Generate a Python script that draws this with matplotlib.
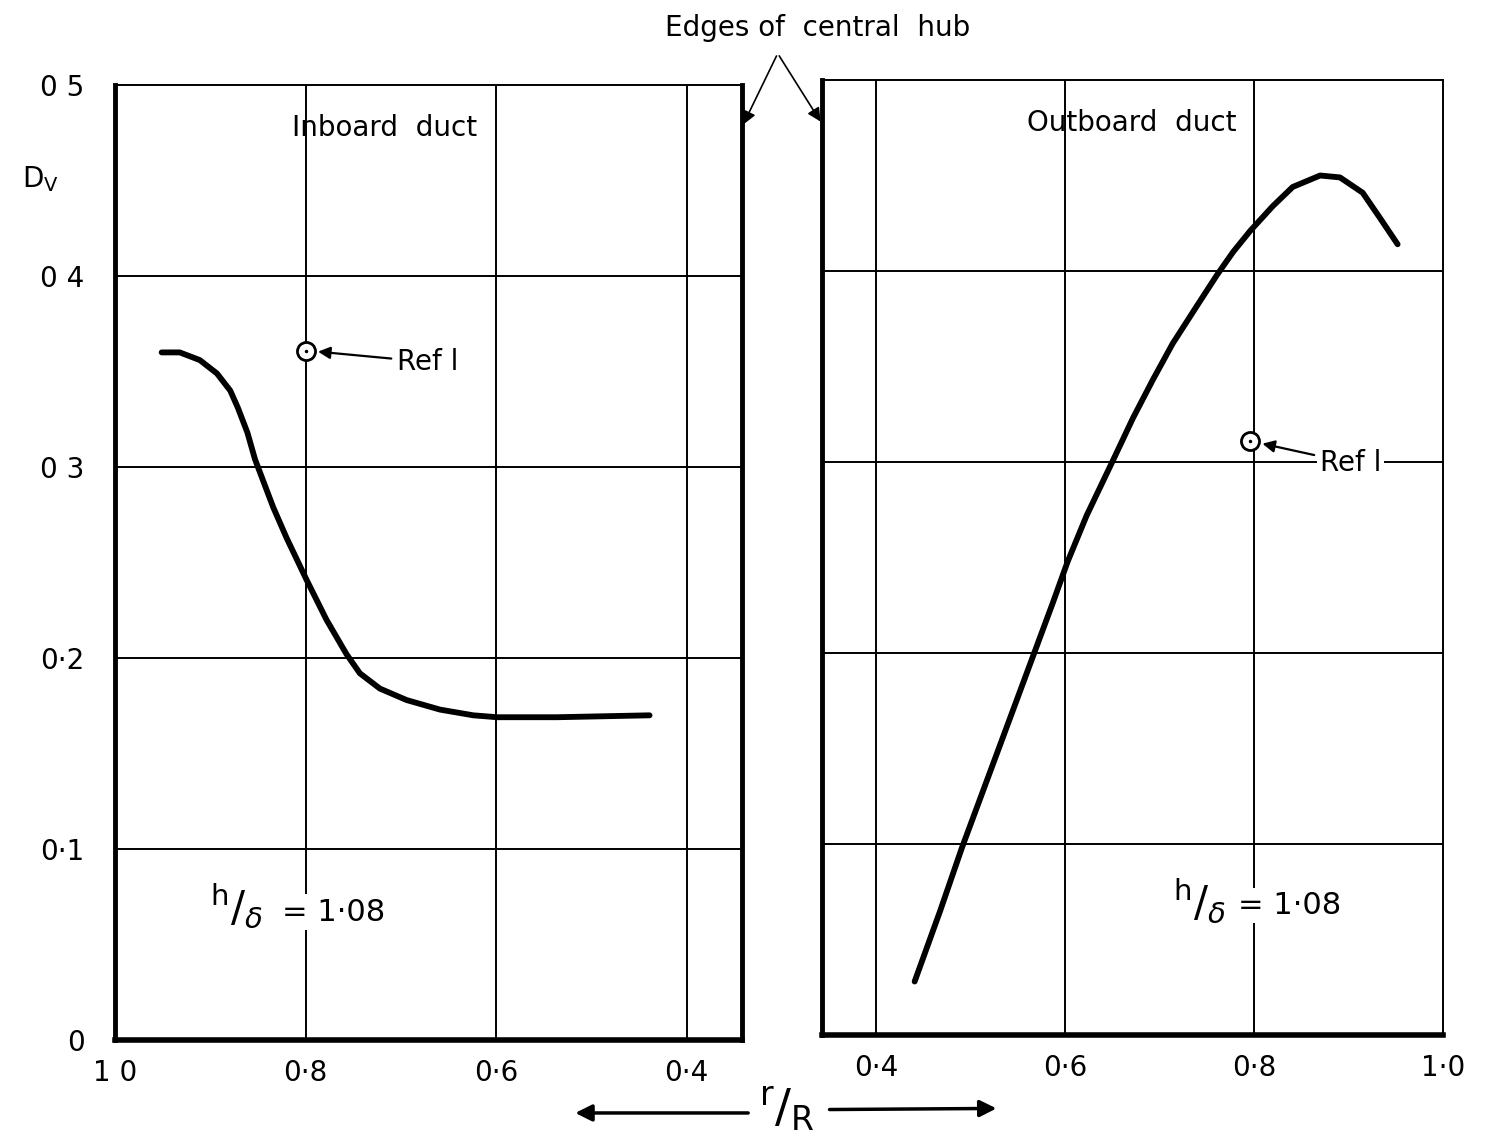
import matplotlib
matplotlib.use("Agg")
import matplotlib.pyplot as plt
from matplotlib.patches import FancyArrowPatch

# Inboard duct (left panel, r/R decreasing to the right)
r_in = [0.951, 0.932, 0.911, 0.893, 0.879, 0.871, 0.861, 0.853, 0.834, 0.820,
        0.799, 0.778, 0.757, 0.743, 0.722, 0.694, 0.659, 0.624, 0.599, 0.536, 0.439]
dv_in = [0.360, 0.360, 0.356, 0.349, 0.340, 0.331, 0.318, 0.304, 0.279, 0.263,
         0.241, 0.220, 0.202, 0.192, 0.184, 0.178, 0.173, 0.170, 0.169, 0.169, 0.170]

# Outboard duct (right panel)
r_out = [0.441, 0.468, 0.491, 0.518, 0.545, 0.566, 0.587, 0.603, 0.623, 0.651,
         0.672, 0.693, 0.714, 0.740, 0.761, 0.778, 0.796, 0.820, 0.841, 0.870,
         0.891, 0.915, 0.933, 0.952]
dv_out = [0.028, 0.065, 0.098, 0.134, 0.170, 0.198, 0.226, 0.248, 0.272, 0.301,
          0.323, 0.343, 0.362, 0.382, 0.398, 0.410, 0.421, 0.434, 0.444, 0.450,
          0.449, 0.441, 0.428, 0.414]

# Ref 1 points
ref_in = (0.80, 0.361)
ref_out = (0.796, 0.311)

y_ticks = [0, 0.1, 0.2, 0.3, 0.4, 0.5]
y_labels = ["0", "0·1", "0·2", "0 3", "0 4", "0 5"]
x_in_ticks = [1.0, 0.8, 0.6, 0.4]
x_in_labels = ["1 0", "0·8", "0·6", "0·4"]
x_out_ticks = [0.4, 0.6, 0.8, 1.0]
x_out_labels = ["0·4", "0·6", "0·8", "1·0"]

fs = 20
fig = plt.figure(figsize=(14.87, 11.38), dpi=100)
ax1 = fig.add_axes([0.0773, 0.0861, 0.4217, 0.8392])
ax2 = fig.add_axes([0.5528, 0.0905, 0.4176, 0.8392])

ax1.set_xlim(1.0, 0.342)
ax2.set_xlim(0.343, 1.0)

for ax in (ax1, ax2):
    ax.set_ylim(0, 0.5)
    for yv in y_ticks[1:-1]:
        ax.axhline(yv, color="black", lw=1.4, zorder=1)
    ax.tick_params(length=0, labelsize=fs, pad=14)
    for s in ax.spines.values():
        s.set_linewidth(1.4)
    ax.spines["left"].set_linewidth(3.5)
    ax.spines["bottom"].set_linewidth(4)

for xv in x_in_ticks[1:]:
    ax1.axvline(xv, color="black", lw=1.4, zorder=1)
for xv in x_out_ticks[:-1]:
    ax2.axvline(xv, color="black", lw=1.4, zorder=1)
ax1.spines["right"].set_linewidth(3.5)

ax1.set_yticks(y_ticks)
ax1.set_yticklabels(y_labels)
ax2.set_yticks([])
ax1.set_xticks(x_in_ticks)
ax1.set_xticklabels(x_in_labels)
ax2.set_xticks(x_out_ticks)
ax2.set_xticklabels(x_out_labels)
ax1.tick_params(axis="y", pad=22)

ax1.plot(r_in, dv_in, color="black", lw=4.2, solid_capstyle="round",
         solid_joinstyle="round", zorder=3)
ax2.plot(r_out, dv_out, color="black", lw=4.2, solid_capstyle="round",
         solid_joinstyle="round", zorder=3)

# Ref 1 markers and labels
for ax, pt, txt_xy in ((ax1, ref_in, (0.672, 0.355)), (ax2, ref_out, (0.902, 0.2995))):
    ax.plot(*pt, marker="o", ms=13, mfc="white", mec="black", mew=2, zorder=4)
    ax.plot(*pt, marker=".", ms=3, color="black", zorder=5)
    ax.annotate("Ref l", xy=pt, xytext=txt_xy, fontsize=fs, ha="center", va="center",
                bbox=dict(boxstyle="square,pad=0.1", fc="white", ec="none"),
                arrowprops=dict(arrowstyle="-|>", color="black", lw=1.6,
                                shrinkA=2, shrinkB=9, mutation_scale=18), zorder=6)

ax1.text(0.717, 0.4775, "Inboard  duct", fontsize=fs, ha="center", va="center")
ax2.text(0.671, 0.4775, "Outboard  duct", fontsize=fs, ha="center", va="center")

# h/delta labels
frac = r"$^{\mathregular{h}}/_{\delta}$"
white = dict(boxstyle="square,pad=0.1", fc="white", ec="none")
ax1.text(0.872, 0.0707, frac, fontsize=30, ha="center", va="center")
ax1.text(0.771, 0.067, "= 1·08", fontsize=fs + 2, ha="center", va="center", bbox=white)
ax2.text(0.742, 0.0707, frac, fontsize=30, ha="center", va="center")
ax2.text(0.838, 0.068, "= 1·08", fontsize=fs + 2, ha="center", va="center", bbox=white)

fig.text(0.027, 0.843, r"D$_{\mathregular{V}}$", fontsize=fs, ha="center", va="center")

# Edges of central hub
fig.text(0.550, 0.975, "Edges of  central  hub", fontsize=fs, ha="center", va="center")
ax1.annotate("", xy=(1.0, 0.478), xycoords=("axes fraction", "data"),
             xytext=(0.523, 0.953), textcoords="figure fraction",
             arrowprops=dict(arrowstyle="-|>", color="black", lw=1.2, mutation_scale=20))
ax2.annotate("", xy=(0.0, 0.477), xycoords=("axes fraction", "data"),
             xytext=(0.523, 0.953), textcoords="figure fraction",
             arrowprops=dict(arrowstyle="-|>", color="black", lw=1.2, mutation_scale=20))

# r/R label with direction arrows
fig.text(0.529, 0.026, r"$^{\mathregular{r}}/_{\mathregular{R}}$", fontsize=34,
         ha="center", va="center")
fig.patches.append(FancyArrowPatch(
    (0.505, 0.022), (0.385, 0.022), transform=fig.transFigure,
    arrowstyle="-|>", color="black", lw=2.5, mutation_scale=25))
fig.patches.append(FancyArrowPatch(
    (0.556, 0.025), (0.672, 0.026), transform=fig.transFigure,
    arrowstyle="-|>", color="black", lw=2.5, mutation_scale=25))

fig.savefig("out.png", dpi=100)
